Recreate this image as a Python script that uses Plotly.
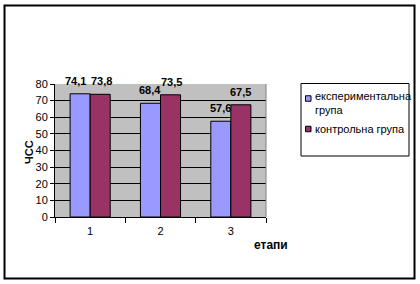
import plotly.graph_objects as go

# ---- data ----
categories = ["1", "2", "3"]
exp_values = [74.1, 68.4, 57.6]
ctrl_values = [73.8, 73.5, 67.5]
series_names = ["експериментальна<br>група", "контрольна група"]
y_title = "ЧСС"
x_title = "етапи"
y_ticks = [0, 10, 20, 30, 40, 50, 60, 70, 80]

# ---- layout geometry (pixels) ----
W, H = 420, 284
L, R, T, B = 55, 266, 84, 217
BARGAP = 0.43
FONT = "Liberation Sans, Arial, sans-serif"
colors = ["#9999FF", "#993366"]
# small horizontal nudges of the value labels (style only)
label_shift = [[-5, 0, 0], [1, 1, 0]]


def px(x):
    return (x - L) / (R - L)


def py(y):
    return (B - y) / (B - T)


fig = go.Figure()
for vals, col, name in zip([exp_values, ctrl_values], colors, series_names):
    fig.add_trace(go.Bar(
        x=categories, y=vals, name=name,
        marker=dict(color=col, line=dict(color="black", width=1)),
        showlegend=False,
    ))

annotations = []
bw = (1 - BARGAP) / 2
for s, vals in enumerate([exp_values, ctrl_values]):
    off = (-bw / 2) if s == 0 else (bw / 2)
    for i, v in enumerate(vals):
        annotations.append(dict(
            x=i + off, y=v, xref="x", yref="y",
            text=f"{v:.1f}".replace(".", ","), showarrow=False,
            xanchor="center", yanchor="bottom", yshift=5,
            xshift=label_shift[s][i],
            font=dict(family=FONT, size=11, color="black", weight="bold"),
        ))

# axis titles
annotations.append(dict(
    x=px(29), y=py(152), xref="paper", yref="paper", text=y_title,
    showarrow=False, textangle=-90, xanchor="center", yanchor="middle",
    font=dict(family=FONT, size=11, color="black", weight="bold"),
))
annotations.append(dict(
    x=px(271), y=py(245), xref="paper", yref="paper", text=x_title,
    showarrow=False, xanchor="center", yanchor="middle",
    font=dict(family=FONT, size=12, color="black", weight="bold"),
))

# legend texts
leg_y = [102.5, 129]
for name, yy in zip(series_names, leg_y):
    annotations.append(dict(
        x=px(312.5), y=py(yy), xref="paper", yref="paper", text=name,
        showarrow=False, xanchor="left", yanchor="middle", align="left",
        font=dict(family=FONT, size=11, color="black"),
    ))

shapes = [
    # outer frame
    dict(type="rect", xref="paper", yref="paper",
         x0=px(4.5), x1=px(414.5), y0=py(278.5), y1=py(5.5),
         line=dict(color="black", width=2)),
    # plot area right edge
    dict(type="line", xref="paper", yref="paper", x0=1, x1=1, y0=0, y1=1,
         line=dict(color="#808080", width=1)),
    # legend box
    dict(type="rect", xref="paper", yref="paper",
         x0=px(301), x1=px(409), y0=py(156), y1=py(83.5),
         line=dict(color="black", width=1)),
]
sq_y = [98.5, 129]
for col, yy in zip(colors, sq_y):
    shapes.append(dict(type="rect", xref="paper", yref="paper",
                       x0=px(305.5), x1=px(311), y0=py(yy + 2.75), y1=py(yy - 2.75),
                       fillcolor=col, line=dict(color="black", width=1)))

fig.update_layout(
    width=W, height=H,
    margin=dict(l=L, r=W - R, t=T, b=H - B, pad=0),
    paper_bgcolor="white", plot_bgcolor="#C0C0C0",
    barmode="group", bargap=BARGAP, bargroupgap=0,
    font=dict(family=FONT, size=11, color="black"),
    showlegend=False,
    annotations=annotations, shapes=shapes,
)
fig.update_xaxes(
    type="category", tickson="boundaries", ticks="outside", ticklen=5,
    tickcolor="black", showline=True, linecolor="black", linewidth=1,
    showgrid=False, tickfont=dict(family=FONT, size=11), ticklabelstandoff=4,
)
fig.update_yaxes(
    range=[0, 80], tickvals=y_ticks, ticks="outside", ticklen=4,
    tickcolor="black", showline=True, linecolor="black", linewidth=1,
    showgrid=True, gridcolor="black", gridwidth=1, zeroline=False,
    tickfont=dict(family=FONT, size=11),
)

fig.write_html("out.html")
